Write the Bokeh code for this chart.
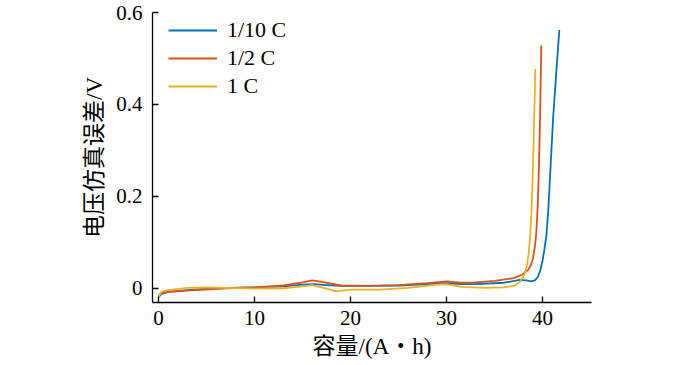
from bokeh.plotting import figure
from bokeh.models import Legend, LegendItem, FixedTicker, Range1d
from bokeh.embed import file_html
from bokeh.resources import INLINE

# ---- data ----
series_names = ["1/10 C", "1/2 C", "1 C"]
colors = ["#0072BD", "#D95319", "#EDB120"]

x_blue = [0, 0.3, 1, 3, 6, 10, 13, 15, 16.2, 17.5, 19, 22, 25, 28, 30, 31.5, 33, 36,
          37.6, 38.3, 38.8, 39.2, 39.5, 39.75, 40.0, 40.2, 40.4, 40.6, 40.75, 40.95,
          41.1, 41.3, 41.5, 41.75]
y_blue = [-0.02, -0.012, -0.008, -0.004, 0.0, 0.002, 0.004, 0.008, 0.009, 0.007, 0.005,
          0.005, 0.006, 0.009, 0.011, 0.009, 0.009, 0.012, 0.018, 0.017, 0.015, 0.017,
          0.024, 0.038, 0.06, 0.085, 0.115, 0.17, 0.23, 0.31, 0.37, 0.43, 0.49, 0.562]

x_orange = [0, 0.3, 1, 3, 7, 10, 13, 15, 16, 17, 19, 22, 25, 28, 30, 31.5, 33, 35, 37,
            37.9, 38.5, 38.8, 39.0, 39.2, 39.35, 39.5, 39.62, 39.75, 39.87]
y_orange = [-0.016, -0.01, -0.008, -0.005, 0.0, 0.002, 0.006, 0.013, 0.017, 0.014, 0.006,
            0.005, 0.007, 0.011, 0.015, 0.012, 0.013, 0.016, 0.022, 0.03, 0.04, 0.05, 0.065,
            0.09, 0.12, 0.18, 0.26, 0.38, 0.528]

x_yellow = [0, 0.15, 0.4, 1, 3, 5, 7, 10, 13, 15, 16, 17, 18.5, 20, 23, 26, 29, 30, 31.5,
            34, 36, 37, 37.6, 38.0, 38.2, 38.4, 38.55, 38.7, 38.85, 38.97, 39.1, 39.25]
y_yellow = [-0.021, -0.012, -0.007, -0.004, 0.001, 0.002, 0.001, -0.001, 0.0, 0.004, 0.007,
            0.002, -0.007, -0.003, -0.003, 0.001, 0.008, 0.009, 0.003, 0.001, 0.002, 0.005,
            0.013, 0.025, 0.036, 0.052, 0.075, 0.11, 0.165, 0.24, 0.34, 0.477]

x_ticks = [0, 10, 20, 30, 40]
y_ticks = [0, 0.2, 0.4, 0.6]
y_tick_labels = ["0", "0.2", "0.4", "0.6"]

x_label = "容量/(A・h)"
y_label = "电压仿真误差/V"

SERIF = "Liberation Serif, Noto Sans CJK SC"

p = figure(width=700, height=365, output_backend="svg", toolbar_location=None,
           x_range=Range1d(-0.63, 45.1), y_range=Range1d(-0.031, 0.6),
           min_border_left=152, min_border_right=109, min_border_top=12, min_border_bottom=63)

p.outline_line_color = None
p.grid.visible = False
p.background_fill_color = "white"
p.border_fill_color = "white"

renderers = []
for xs, ys, c in [(x_blue, y_blue, colors[0]), (x_orange, y_orange, colors[1]),
                  (x_yellow, y_yellow, colors[2])]:
    r = p.line(xs, ys, line_color=c, line_width=1.8, line_join="round")
    renderers.append(r)

for ax in (p.xaxis[0], p.yaxis[0]):
    ax.axis_line_color = "black"
    ax.axis_line_width = 1.3
    ax.major_tick_line_color = "black"
    ax.major_tick_line_width = 1.3
    ax.major_tick_in = 6
    ax.major_tick_out = 0
    ax.minor_tick_line_color = None
    ax.major_label_text_font = SERIF
    ax.major_label_text_font_size = "21px"
    ax.major_label_text_color = "black"
    ax.axis_label_text_font = SERIF
    ax.axis_label_text_font_size = "23px"
    ax.axis_label_text_font_style = "normal"
    ax.axis_label_text_color = "black"

p.xaxis[0].ticker = FixedTicker(ticks=x_ticks)
p.yaxis[0].ticker = FixedTicker(ticks=y_ticks)
p.yaxis[0].major_label_overrides = {t: l for t, l in zip(y_ticks, y_tick_labels)}
p.xaxis[0].axis_label = x_label
p.yaxis[0].axis_label = y_label
p.xaxis[0].major_label_standoff = 8
p.xaxis[0].axis_label_standoff = 6
p.yaxis[0].major_label_standoff = 10
p.yaxis[0].axis_label_standoff = 6

legend = Legend(items=[LegendItem(label=n, renderers=[r]) for n, r in zip(series_names, renderers)],
                location=(16, 203))
legend.border_line_color = None
legend.background_fill_alpha = 0
legend.padding = 0
legend.margin = 0
legend.spacing = 2
legend.glyph_width = 49
legend.glyph_height = 20
legend.label_height = 20
legend.label_standoff = 10
legend.label_text_font = SERIF
legend.label_text_font_size = "22px"
legend.label_text_color = "black"
p.add_layout(legend)

open("out.html", "w").write(file_html(p, INLINE))
